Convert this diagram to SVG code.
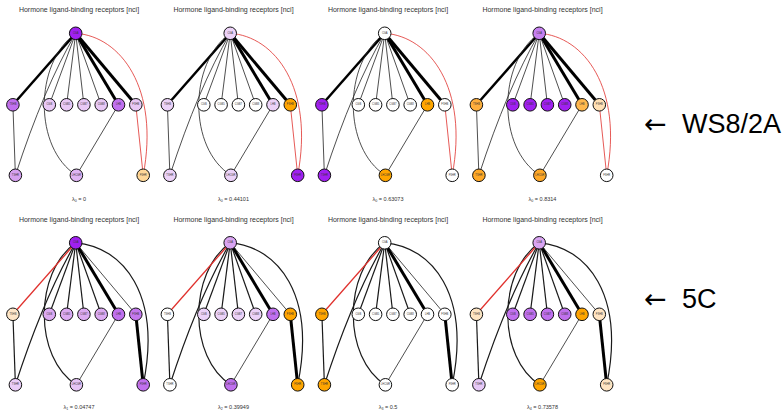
<svg xmlns="http://www.w3.org/2000/svg" width="784" height="413" viewBox="0 0 784 413">
<defs>
<style>
.bg{fill:#ffffff}
.ttl{font-family:"Liberation Sans",Arial,sans-serif;font-size:7px;fill:#333333;text-anchor:middle}
.cap{font-family:"Liberation Sans",Arial,sans-serif;font-size:5.5px;fill:#333333;text-anchor:middle}
.node circle{stroke:#111111;stroke-width:1}
.node text{font-family:"Liberation Sans",Arial,sans-serif;font-size:2.6px;fill:#333333;text-anchor:middle;dominant-baseline:central}
.e{fill:none;stroke:#222222;stroke-width:0.8}
.em{fill:none;stroke:#1a1a1a;stroke-width:1.2}
.ek{fill:none;stroke:#000000;stroke-width:3}
.ek2{fill:none;stroke:#000000;stroke-width:2.5}
.er{fill:none;stroke:#e0302c;stroke-width:0.8}
.er2{fill:none;stroke:#e0302c;stroke-width:1.3}
.big{font-family:"Liberation Sans",Arial,sans-serif;font-size:27px;fill:#000000}
.arr{font-family:"DejaVu Sans","Liberation Sans",sans-serif;font-size:27px;fill:#000000}
</style>
</defs>
<rect class="bg" x="0" y="0" width="784" height="413"/>

<!-- ================= TOP ROW (WS8/2A) ================= -->
<!-- Panel T1 -->
<g id="panelT1" transform="translate(75.7,33.3)">
<text class="ttl" x="3.3" y="-20.9">Hormone ligand-binding receptors [nci]</text>
<g id="T1-edges">
<line class="ek2" x1="0" y1="0" x2="-62.8" y2="71.5"/>
<line class="e" x1="0" y1="0" x2="-26.4" y2="71.5"/>
<line class="e" x1="0" y1="0" x2="-9.1" y2="71.5"/>
<line class="e" x1="0" y1="0" x2="8.2" y2="71.5"/>
<line class="e" x1="0" y1="0" x2="25.5" y2="71.5"/>
<line class="ek" x1="0" y1="0" x2="42.8" y2="71.5"/>
<line class="ek" x1="0" y1="0" x2="60.1" y2="71.5"/>
<path class="e" d="M0,0 Q-32,55 -60.3,142"/>
<path class="e" d="M0,0 C-42,30 -42,115 0.7,142"/>
<line class="e" x1="-62.8" y1="71.5" x2="-60.3" y2="142"/>
<line class="e" x1="42.8" y1="71.5" x2="0.7" y2="142"/>
<line class="er" x1="60.1" y1="71.5" x2="67.5" y2="142"/>
<path class="er" d="M0,0 C45,3 84,55 67.5,142"/>
</g>
<g id="T1-CGA" class="node"><circle cx="0" cy="0" r="6.3" fill="#a020f0"/><text x="0" y="0">CGA</text></g>
<g id="T1-TSHB" class="node"><circle cx="-62.8" cy="71.5" r="6.3" fill="#c070ee"/><text x="-62.8" y="71.5">TSHB</text></g>
<g id="T1-CGB" class="node"><circle cx="-26.4" cy="71.5" r="6.3" fill="#e8c8f5"/><text x="-26.4" y="71.5">CGB</text></g>
<g id="T1-CGB5" class="node"><circle cx="-9.1" cy="71.5" r="6.3" fill="#e8c8f5"/><text x="-9.1" y="71.5">CGB5</text></g>
<g id="T1-CGB7" class="node"><circle cx="8.2" cy="71.5" r="6.3" fill="#e8c8f5"/><text x="8.2" y="71.5">CGB7</text></g>
<g id="T1-CGB8" class="node"><circle cx="25.5" cy="71.5" r="6.3" fill="#e8c8f5"/><text x="25.5" y="71.5">CGB8</text></g>
<g id="T1-LHB" class="node"><circle cx="42.8" cy="71.5" r="6.3" fill="#c070ee"/><text x="42.8" y="71.5">LHB</text></g>
<g id="T1-FSHB" class="node"><circle cx="60.1" cy="71.5" r="6.3" fill="#e8c8f5"/><text x="60.1" y="71.5">FSHB</text></g>
<g id="T1-TSHR" class="node"><circle cx="-60.3" cy="142" r="6.3" fill="#d6a0f0"/><text x="-60.3" y="142">TSHR</text></g>
<g id="T1-LHCGR" class="node"><circle cx="0.7" cy="142" r="6.3" fill="#dfb4f4"/><text x="0.7" y="142">LHCGR</text></g>
<g id="T1-FSHR" class="node"><circle cx="67.5" cy="142" r="6.3" fill="#ffd898"/><text x="67.5" y="142">FSHR</text></g>
<text class="cap" x="3.3" y="167.7">λ<tspan font-size="3.6" dy="1">0</tspan><tspan dy="-1"> = 0</tspan></text>
</g>

<!-- Panel T2 -->
<g id="panelT2" transform="translate(230.2,33.3)">
<text class="ttl" x="3.3" y="-20.9">Hormone ligand-binding receptors [nci]</text>
<g id="T2-edges">
<line class="ek2" x1="0" y1="0" x2="-62.8" y2="71.5"/>
<line class="e" x1="0" y1="0" x2="-26.4" y2="71.5"/>
<line class="e" x1="0" y1="0" x2="-9.1" y2="71.5"/>
<line class="e" x1="0" y1="0" x2="8.2" y2="71.5"/>
<line class="e" x1="0" y1="0" x2="25.5" y2="71.5"/>
<line class="ek" x1="0" y1="0" x2="42.8" y2="71.5"/>
<line class="ek" x1="0" y1="0" x2="60.1" y2="71.5"/>
<path class="e" d="M0,0 Q-32,55 -60.3,142"/>
<path class="e" d="M0,0 C-42,30 -42,115 0.7,142"/>
<line class="e" x1="-62.8" y1="71.5" x2="-60.3" y2="142"/>
<line class="e" x1="42.8" y1="71.5" x2="0.7" y2="142"/>
<line class="er" x1="60.1" y1="71.5" x2="67.5" y2="142"/>
<path class="er" d="M0,0 C45,3 84,55 67.5,142"/>
</g>
<g id="T2-CGA" class="node"><circle cx="0" cy="0" r="6.3" fill="#ecd2f8"/><text x="0" y="0">CGA</text></g>
<g id="T2-TSHB" class="node"><circle cx="-62.8" cy="71.5" r="6.3" fill="#ecd2f8"/><text x="-62.8" y="71.5">TSHB</text></g>
<g id="T2-CGB" class="node"><circle cx="-26.4" cy="71.5" r="6.3" fill="#ffffff"/><text x="-26.4" y="71.5">CGB</text></g>
<g id="T2-CGB5" class="node"><circle cx="-9.1" cy="71.5" r="6.3" fill="#ffffff"/><text x="-9.1" y="71.5">CGB5</text></g>
<g id="T2-CGB7" class="node"><circle cx="8.2" cy="71.5" r="6.3" fill="#ffffff"/><text x="8.2" y="71.5">CGB7</text></g>
<g id="T2-CGB8" class="node"><circle cx="25.5" cy="71.5" r="6.3" fill="#ffffff"/><text x="25.5" y="71.5">CGB8</text></g>
<g id="T2-LHB" class="node"><circle cx="42.8" cy="71.5" r="6.3" fill="#ecd2f8"/><text x="42.8" y="71.5">LHB</text></g>
<g id="T2-FSHB" class="node"><circle cx="60.1" cy="71.5" r="6.3" fill="#ffa500"/><text x="60.1" y="71.5">FSHB</text></g>
<g id="T2-TSHR" class="node"><circle cx="-60.3" cy="142" r="6.3" fill="#ecd2f8"/><text x="-60.3" y="142">TSHR</text></g>
<g id="T2-LHCGR" class="node"><circle cx="0.7" cy="142" r="6.3" fill="#ecd2f8"/><text x="0.7" y="142">LHCGR</text></g>
<g id="T2-FSHR" class="node"><circle cx="67.5" cy="142" r="6.3" fill="#a020f0"/><text x="67.5" y="142">FSHR</text></g>
<text class="cap" x="3.3" y="167.7">λ<tspan font-size="3.6" dy="1">0</tspan><tspan dy="-1"> = 0.44101</tspan></text>
</g>

<!-- Panel T3 -->
<g id="panelT3" transform="translate(384.7,33.3)">
<text class="ttl" x="3.3" y="-20.9">Hormone ligand-binding receptors [nci]</text>
<g id="T3-edges">
<line class="ek2" x1="0" y1="0" x2="-62.8" y2="71.5"/>
<line class="e" x1="0" y1="0" x2="-26.4" y2="71.5"/>
<line class="e" x1="0" y1="0" x2="-9.1" y2="71.5"/>
<line class="e" x1="0" y1="0" x2="8.2" y2="71.5"/>
<line class="e" x1="0" y1="0" x2="25.5" y2="71.5"/>
<line class="ek" x1="0" y1="0" x2="42.8" y2="71.5"/>
<line class="ek" x1="0" y1="0" x2="60.1" y2="71.5"/>
<path class="e" d="M0,0 Q-32,55 -60.3,142"/>
<path class="e" d="M0,0 C-42,30 -42,115 0.7,142"/>
<line class="e" x1="-62.8" y1="71.5" x2="-60.3" y2="142"/>
<line class="e" x1="42.8" y1="71.5" x2="0.7" y2="142"/>
<line class="er" x1="60.1" y1="71.5" x2="67.5" y2="142"/>
<path class="er" d="M0,0 C45,3 84,55 67.5,142"/>
</g>
<g id="T3-CGA" class="node"><circle cx="0" cy="0" r="6.3" fill="#ffffff"/><text x="0" y="0">CGA</text></g>
<g id="T3-TSHB" class="node"><circle cx="-62.8" cy="71.5" r="6.3" fill="#a020f0"/><text x="-62.8" y="71.5">TSHB</text></g>
<g id="T3-CGB" class="node"><circle cx="-26.4" cy="71.5" r="6.3" fill="#ffffff"/><text x="-26.4" y="71.5">CGB</text></g>
<g id="T3-CGB5" class="node"><circle cx="-9.1" cy="71.5" r="6.3" fill="#ffffff"/><text x="-9.1" y="71.5">CGB5</text></g>
<g id="T3-CGB7" class="node"><circle cx="8.2" cy="71.5" r="6.3" fill="#ffffff"/><text x="8.2" y="71.5">CGB7</text></g>
<g id="T3-CGB8" class="node"><circle cx="25.5" cy="71.5" r="6.3" fill="#ffffff"/><text x="25.5" y="71.5">CGB8</text></g>
<g id="T3-LHB" class="node"><circle cx="42.8" cy="71.5" r="6.3" fill="#ffa500"/><text x="42.8" y="71.5">LHB</text></g>
<g id="T3-FSHB" class="node"><circle cx="60.1" cy="71.5" r="6.3" fill="#ffffff"/><text x="60.1" y="71.5">FSHB</text></g>
<g id="T3-TSHR" class="node"><circle cx="-60.3" cy="142" r="6.3" fill="#a020f0"/><text x="-60.3" y="142">TSHR</text></g>
<g id="T3-LHCGR" class="node"><circle cx="0.7" cy="142" r="6.3" fill="#ffa500"/><text x="0.7" y="142">LHCGR</text></g>
<g id="T3-FSHR" class="node"><circle cx="67.5" cy="142" r="6.3" fill="#ffffff"/><text x="67.5" y="142">FSHR</text></g>
<text class="cap" x="3.3" y="167.7">λ<tspan font-size="3.6" dy="1">0</tspan><tspan dy="-1"> = 0.63073</tspan></text>
</g>

<!-- Panel T4 -->
<g id="panelT4" transform="translate(539.2,33.3)">
<text class="ttl" x="3.3" y="-20.9">Hormone ligand-binding receptors [nci]</text>
<g id="T4-edges">
<line class="ek2" x1="0" y1="0" x2="-62.8" y2="71.5"/>
<line class="e" x1="0" y1="0" x2="-26.4" y2="71.5"/>
<line class="e" x1="0" y1="0" x2="-9.1" y2="71.5"/>
<line class="e" x1="0" y1="0" x2="8.2" y2="71.5"/>
<line class="e" x1="0" y1="0" x2="25.5" y2="71.5"/>
<line class="ek" x1="0" y1="0" x2="42.8" y2="71.5"/>
<line class="ek" x1="0" y1="0" x2="60.1" y2="71.5"/>
<path class="e" d="M0,0 Q-32,55 -60.3,142"/>
<path class="e" d="M0,0 C-42,30 -42,115 0.7,142"/>
<line class="e" x1="-62.8" y1="71.5" x2="-60.3" y2="142"/>
<line class="e" x1="42.8" y1="71.5" x2="0.7" y2="142"/>
<line class="er" x1="60.1" y1="71.5" x2="67.5" y2="142"/>
<path class="er" d="M0,0 C45,3 84,55 67.5,142"/>
</g>
<g id="T4-CGA" class="node"><circle cx="0" cy="0" r="6.3" fill="#c680f0"/><text x="0" y="0">CGA</text></g>
<g id="T4-TSHB" class="node"><circle cx="-62.8" cy="71.5" r="6.3" fill="#ffae3c"/><text x="-62.8" y="71.5">TSHB</text></g>
<g id="T4-CGB" class="node"><circle cx="-26.4" cy="71.5" r="6.3" fill="#a020f0"/><text x="-26.4" y="71.5">CGB</text></g>
<g id="T4-CGB5" class="node"><circle cx="-9.1" cy="71.5" r="6.3" fill="#a020f0"/><text x="-9.1" y="71.5">CGB5</text></g>
<g id="T4-CGB7" class="node"><circle cx="8.2" cy="71.5" r="6.3" fill="#a020f0"/><text x="8.2" y="71.5">CGB7</text></g>
<g id="T4-CGB8" class="node"><circle cx="25.5" cy="71.5" r="6.3" fill="#a020f0"/><text x="25.5" y="71.5">CGB8</text></g>
<g id="T4-LHB" class="node"><circle cx="42.8" cy="71.5" r="6.3" fill="#ffb84d"/><text x="42.8" y="71.5">LHB</text></g>
<g id="T4-FSHB" class="node"><circle cx="60.1" cy="71.5" r="6.3" fill="#ffe0b5"/><text x="60.1" y="71.5">FSHB</text></g>
<g id="T4-TSHR" class="node"><circle cx="-60.3" cy="142" r="6.3" fill="#ffa826"/><text x="-60.3" y="142">TSHR</text></g>
<g id="T4-LHCGR" class="node"><circle cx="0.7" cy="142" r="6.3" fill="#ffa826"/><text x="0.7" y="142">LHCGR</text></g>
<g id="T4-FSHR" class="node"><circle cx="67.5" cy="142" r="6.3" fill="#ffffff"/><text x="67.5" y="142">FSHR</text></g>
<text class="cap" x="3.3" y="167.7">λ<tspan font-size="3.6" dy="1">0</tspan><tspan dy="-1"> = 0.8314</tspan></text>
</g>

<!-- ================= BOTTOM ROW (5C) ================= -->
<!-- Panel B1 -->
<g id="panelB1" transform="translate(75.7,242.8)">
<text class="ttl" x="3.3" y="-20.5">Hormone ligand-binding receptors [nci]</text>
<g id="B1-edges">
<line class="em" x1="0" y1="0" x2="-26.4" y2="71.5"/>
<line class="em" x1="0" y1="0" x2="-9.1" y2="71.5"/>
<line class="em" x1="0" y1="0" x2="8.2" y2="71.5"/>
<line class="em" x1="0" y1="0" x2="25.5" y2="71.5"/>
<line class="ek" x1="0" y1="0" x2="42.8" y2="71.5"/>
<line class="e" x1="0" y1="0" x2="60.1" y2="71.5"/>
<path class="em" d="M0,0 Q-32,55 -60.3,142"/>
<path class="em" d="M0,0 C-42,30 -42,115 0.7,142"/>
<line class="em" x1="-62.8" y1="71.5" x2="-60.3" y2="142"/>
<line class="e" x1="42.8" y1="71.5" x2="0.7" y2="142"/>
<line class="ek" x1="60.1" y1="71.5" x2="67.5" y2="142"/>
<path class="em" d="M0,0 C48,4 86,52 67.5,142"/>
<line class="er2" x1="0" y1="0" x2="-62.8" y2="71.5"/>
</g>
<g id="B1-CGA" class="node"><circle cx="0" cy="0" r="6.3" fill="#a020f0"/><text x="0" y="0">CGA</text></g>
<g id="B1-TSHB" class="node"><circle cx="-62.8" cy="71.5" r="6.3" fill="#fde6c8"/><text x="-62.8" y="71.5">TSHB</text></g>
<g id="B1-CGB" class="node"><circle cx="-26.4" cy="71.5" r="6.3" fill="#dcaaf2"/><text x="-26.4" y="71.5">CGB</text></g>
<g id="B1-CGB5" class="node"><circle cx="-9.1" cy="71.5" r="6.3" fill="#dcaaf2"/><text x="-9.1" y="71.5">CGB5</text></g>
<g id="B1-CGB7" class="node"><circle cx="8.2" cy="71.5" r="6.3" fill="#dcaaf2"/><text x="8.2" y="71.5">CGB7</text></g>
<g id="B1-CGB8" class="node"><circle cx="25.5" cy="71.5" r="6.3" fill="#dcaaf2"/><text x="25.5" y="71.5">CGB8</text></g>
<g id="B1-LHB" class="node"><circle cx="42.8" cy="71.5" r="6.3" fill="#c070ee"/><text x="42.8" y="71.5">LHB</text></g>
<g id="B1-FSHB" class="node"><circle cx="60.1" cy="71.5" r="6.3" fill="#c478ee"/><text x="60.1" y="71.5">FSHB</text></g>
<g id="B1-TSHR" class="node"><circle cx="-60.3" cy="142" r="6.3" fill="#eacdf7"/><text x="-60.3" y="142">TSHR</text></g>
<g id="B1-LHCGR" class="node"><circle cx="0.7" cy="142" r="6.3" fill="#e6c4f6"/><text x="0.7" y="142">LHCGR</text></g>
<g id="B1-FSHR" class="node"><circle cx="67.5" cy="142" r="6.3" fill="#c070ee"/><text x="67.5" y="142">FSHR</text></g>
<text class="cap" x="3.3" y="166">λ<tspan font-size="3.6" dy="1">1</tspan><tspan dy="-1"> = 0.04747</tspan></text>
</g>

<!-- Panel B2 -->
<g id="panelB2" transform="translate(230.2,242.8)">
<text class="ttl" x="3.3" y="-20.5">Hormone ligand-binding receptors [nci]</text>
<g id="B2-edges">
<line class="em" x1="0" y1="0" x2="-26.4" y2="71.5"/>
<line class="em" x1="0" y1="0" x2="-9.1" y2="71.5"/>
<line class="em" x1="0" y1="0" x2="8.2" y2="71.5"/>
<line class="em" x1="0" y1="0" x2="25.5" y2="71.5"/>
<line class="ek" x1="0" y1="0" x2="42.8" y2="71.5"/>
<line class="e" x1="0" y1="0" x2="60.1" y2="71.5"/>
<path class="em" d="M0,0 Q-32,55 -60.3,142"/>
<path class="em" d="M0,0 C-42,30 -42,115 0.7,142"/>
<line class="em" x1="-62.8" y1="71.5" x2="-60.3" y2="142"/>
<line class="e" x1="42.8" y1="71.5" x2="0.7" y2="142"/>
<line class="ek" x1="60.1" y1="71.5" x2="67.5" y2="142"/>
<path class="em" d="M0,0 C48,4 86,52 67.5,142"/>
<line class="er2" x1="0" y1="0" x2="-62.8" y2="71.5"/>
</g>
<g id="B2-CGA" class="node"><circle cx="0" cy="0" r="6.3" fill="#d9a4f2"/><text x="0" y="0">CGA</text></g>
<g id="B2-TSHB" class="node"><circle cx="-62.8" cy="71.5" r="6.3" fill="#ffffff"/><text x="-62.8" y="71.5">TSHB</text></g>
<g id="B2-CGB" class="node"><circle cx="-26.4" cy="71.5" r="6.3" fill="#ecd2f8"/><text x="-26.4" y="71.5">CGB</text></g>
<g id="B2-CGB5" class="node"><circle cx="-9.1" cy="71.5" r="6.3" fill="#ecd2f8"/><text x="-9.1" y="71.5">CGB5</text></g>
<g id="B2-CGB7" class="node"><circle cx="8.2" cy="71.5" r="6.3" fill="#ecd2f8"/><text x="8.2" y="71.5">CGB7</text></g>
<g id="B2-CGB8" class="node"><circle cx="25.5" cy="71.5" r="6.3" fill="#ecd2f8"/><text x="25.5" y="71.5">CGB8</text></g>
<g id="B2-LHB" class="node"><circle cx="42.8" cy="71.5" r="6.3" fill="#c070ee"/><text x="42.8" y="71.5">LHB</text></g>
<g id="B2-FSHB" class="node"><circle cx="60.1" cy="71.5" r="6.3" fill="#ffa500"/><text x="60.1" y="71.5">FSHB</text></g>
<g id="B2-TSHR" class="node"><circle cx="-60.3" cy="142" r="6.3" fill="#ffffff"/><text x="-60.3" y="142">TSHR</text></g>
<g id="B2-LHCGR" class="node"><circle cx="0.7" cy="142" r="6.3" fill="#c070ee"/><text x="0.7" y="142">LHCGR</text></g>
<g id="B2-FSHR" class="node"><circle cx="67.5" cy="142" r="6.3" fill="#ffa500"/><text x="67.5" y="142">FSHR</text></g>
<text class="cap" x="3.3" y="166">λ<tspan font-size="3.6" dy="1">2</tspan><tspan dy="-1"> = 0.39949</tspan></text>
</g>

<!-- Panel B3 -->
<g id="panelB3" transform="translate(384.7,242.8)">
<text class="ttl" x="3.3" y="-20.5">Hormone ligand-binding receptors [nci]</text>
<g id="B3-edges">
<line class="em" x1="0" y1="0" x2="-26.4" y2="71.5"/>
<line class="em" x1="0" y1="0" x2="-9.1" y2="71.5"/>
<line class="em" x1="0" y1="0" x2="8.2" y2="71.5"/>
<line class="em" x1="0" y1="0" x2="25.5" y2="71.5"/>
<line class="ek" x1="0" y1="0" x2="42.8" y2="71.5"/>
<line class="e" x1="0" y1="0" x2="60.1" y2="71.5"/>
<path class="em" d="M0,0 Q-32,55 -60.3,142"/>
<path class="em" d="M0,0 C-42,30 -42,115 0.7,142"/>
<line class="em" x1="-62.8" y1="71.5" x2="-60.3" y2="142"/>
<line class="e" x1="42.8" y1="71.5" x2="0.7" y2="142"/>
<line class="ek" x1="60.1" y1="71.5" x2="67.5" y2="142"/>
<path class="em" d="M0,0 C48,4 86,52 67.5,142"/>
<line class="er2" x1="0" y1="0" x2="-62.8" y2="71.5"/>
</g>
<g id="B3-CGA" class="node"><circle cx="0" cy="0" r="6.3" fill="#ffffff"/><text x="0" y="0">CGA</text></g>
<g id="B3-TSHB" class="node"><circle cx="-62.8" cy="71.5" r="6.3" fill="#ffa500"/><text x="-62.8" y="71.5">TSHB</text></g>
<g id="B3-CGB" class="node"><circle cx="-26.4" cy="71.5" r="6.3" fill="#ffffff"/><text x="-26.4" y="71.5">CGB</text></g>
<g id="B3-CGB5" class="node"><circle cx="-9.1" cy="71.5" r="6.3" fill="#ffffff"/><text x="-9.1" y="71.5">CGB5</text></g>
<g id="B3-CGB7" class="node"><circle cx="8.2" cy="71.5" r="6.3" fill="#ffffff"/><text x="8.2" y="71.5">CGB7</text></g>
<g id="B3-CGB8" class="node"><circle cx="25.5" cy="71.5" r="6.3" fill="#ffffff"/><text x="25.5" y="71.5">CGB8</text></g>
<g id="B3-LHB" class="node"><circle cx="42.8" cy="71.5" r="6.3" fill="#ffffff"/><text x="42.8" y="71.5">LHB</text></g>
<g id="B3-FSHB" class="node"><circle cx="60.1" cy="71.5" r="6.3" fill="#ffffff"/><text x="60.1" y="71.5">FSHB</text></g>
<g id="B3-TSHR" class="node"><circle cx="-60.3" cy="142" r="6.3" fill="#ffa500"/><text x="-60.3" y="142">TSHR</text></g>
<g id="B3-LHCGR" class="node"><circle cx="0.7" cy="142" r="6.3" fill="#ffffff"/><text x="0.7" y="142">LHCGR</text></g>
<g id="B3-FSHR" class="node"><circle cx="67.5" cy="142" r="6.3" fill="#ffffff"/><text x="67.5" y="142">FSHR</text></g>
<text class="cap" x="3.3" y="166">λ<tspan font-size="3.6" dy="1">3</tspan><tspan dy="-1"> = 0.5</tspan></text>
</g>

<!-- Panel B4 -->
<g id="panelB4" transform="translate(539.2,242.8)">
<text class="ttl" x="3.3" y="-20.5">Hormone ligand-binding receptors [nci]</text>
<g id="B4-edges">
<line class="em" x1="0" y1="0" x2="-26.4" y2="71.5"/>
<line class="em" x1="0" y1="0" x2="-9.1" y2="71.5"/>
<line class="em" x1="0" y1="0" x2="8.2" y2="71.5"/>
<line class="em" x1="0" y1="0" x2="25.5" y2="71.5"/>
<line class="ek" x1="0" y1="0" x2="42.8" y2="71.5"/>
<line class="e" x1="0" y1="0" x2="60.1" y2="71.5"/>
<path class="em" d="M0,0 Q-32,55 -60.3,142"/>
<path class="em" d="M0,0 C-42,30 -42,115 0.7,142"/>
<line class="em" x1="-62.8" y1="71.5" x2="-60.3" y2="142"/>
<line class="e" x1="42.8" y1="71.5" x2="0.7" y2="142"/>
<line class="ek" x1="60.1" y1="71.5" x2="67.5" y2="142"/>
<path class="em" d="M0,0 C48,4 86,52 67.5,142"/>
<line class="er2" x1="0" y1="0" x2="-62.8" y2="71.5"/>
</g>
<g id="B4-CGA" class="node"><circle cx="0" cy="0" r="6.3" fill="#d9a4f2"/><text x="0" y="0">CGA</text></g>
<g id="B4-TSHB" class="node"><circle cx="-62.8" cy="71.5" r="6.3" fill="#ffe4c2"/><text x="-62.8" y="71.5">TSHB</text></g>
<g id="B4-CGB" class="node"><circle cx="-26.4" cy="71.5" r="6.3" fill="#c070ee"/><text x="-26.4" y="71.5">CGB</text></g>
<g id="B4-CGB5" class="node"><circle cx="-9.1" cy="71.5" r="6.3" fill="#c070ee"/><text x="-9.1" y="71.5">CGB5</text></g>
<g id="B4-CGB7" class="node"><circle cx="8.2" cy="71.5" r="6.3" fill="#c070ee"/><text x="8.2" y="71.5">CGB7</text></g>
<g id="B4-CGB8" class="node"><circle cx="25.5" cy="71.5" r="6.3" fill="#c070ee"/><text x="25.5" y="71.5">CGB8</text></g>
<g id="B4-LHB" class="node"><circle cx="42.8" cy="71.5" r="6.3" fill="#ffa500"/><text x="42.8" y="71.5">LHB</text></g>
<g id="B4-FSHB" class="node"><circle cx="60.1" cy="71.5" r="6.3" fill="#ffe4c2"/><text x="60.1" y="71.5">FSHB</text></g>
<g id="B4-TSHR" class="node"><circle cx="-60.3" cy="142" r="6.3" fill="#e6c8f6"/><text x="-60.3" y="142">TSHR</text></g>
<g id="B4-LHCGR" class="node"><circle cx="0.7" cy="142" r="6.3" fill="#ffa500"/><text x="0.7" y="142">LHCGR</text></g>
<g id="B4-FSHR" class="node"><circle cx="67.5" cy="142" r="6.3" fill="#ffe4c2"/><text x="67.5" y="142">FSHR</text></g>
<text class="cap" x="3.3" y="166">λ<tspan font-size="3.6" dy="1">4</tspan><tspan dy="-1"> = 0.73578</tspan></text>
</g>

<!-- Row labels -->
<g id="label-ws">
<text class="arr" x="644" y="133">←</text>
<text class="big" x="682" y="133">WS8/2A</text>
</g>
<g id="label-5c">
<text class="arr" x="644" y="308">←</text>
<text class="big" x="682" y="308">5C</text>
</g>
</svg>
